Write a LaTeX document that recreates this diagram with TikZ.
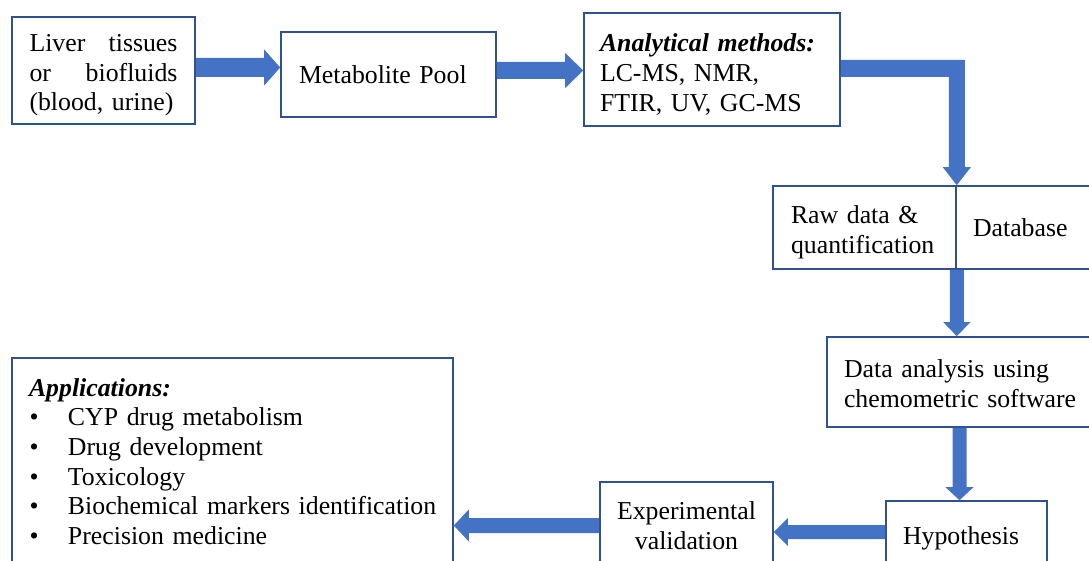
\documentclass[tikz,border=0pt]{standalone}
\usepackage{fontspec}
\setmainfont{Liberation Serif}
\usetikzlibrary{calc}
\definecolor{boxblue}{HTML}{2F528F}
\definecolor{arrowblue}{HTML}{4472C4}
\newcommand\arrR[5]{\fill[arrowblue] ($(#1)+(0,-#3)$) -- ($(#2)+(-#5,-#3)$) -- ($(#2)+(-#5,-#4)$) -- (#2) -- ($(#2)+(-#5,#4)$) -- ($(#2)+(-#5,#3)$) -- ($(#1)+(0,#3)$) -- cycle;}
\newcommand\arrL[5]{\fill[arrowblue] ($(#1)+(0,-#3)$) -- ($(#2)+(#5,-#3)$) -- ($(#2)+(#5,-#4)$) -- (#2) -- ($(#2)+(#5,#4)$) -- ($(#2)+(#5,#3)$) -- ($(#1)+(0,#3)$) -- cycle;}
\newcommand\arrD[5]{\fill[arrowblue] ($(#1)+(-#3,0)$) -- ($(#2)+(-#3,-#5)$) -- ($(#2)+(-#4,-#5)$) -- (#2) -- ($(#2)+(#4,-#5)$) -- ($(#2)+(#3,-#5)$) -- ($(#1)+(#3,0)$) -- cycle;}
\newcommand\appitem{\hspace*{0.5pt}\makebox[38.5pt][l]{\textbullet}}
\begin{document}
\begin{tikzpicture}[x=1pt, y=-1pt,
  box/.style={draw=boxblue, line width=1.6pt, inner sep=0pt, fill=white,
    font=\fontsize{25.8}{29.7}\selectfont}]
\useasboundingbox (0,0) rectangle (1089,561);
\clip (0,0) rectangle (1089,561);
% boxes
\node[box, minimum width=183pt, minimum height=107pt, text width=148pt, align=left] (liver) at (103.5,70.5)
  {\rule{0pt}{27pt}Liver\hfill tissues\\or\hfill biofluids\\(blood, urine)};
\node[box, minimum width=215pt, minimum height=85pt, text width=179pt, align=left] (metab) at (388.5,74.5)
  {Metabolite Pool};
\node[box, minimum width=256pt, minimum height=113pt, text width=224pt, align=left] (an) at (712,69.5)
  {\rule{0pt}{28pt}\textbf{\textit{Analytical methods:}}\\LC-MS, NMR,\\FTIR, UV, GC-MS};
\node[box, minimum width=183pt, minimum height=83pt, text width=147pt, align=left] (raw) at (864.5,227.5)
  {\rule{0pt}{27pt}Raw data \&\\\mbox{quantification}};
\node[box, minimum width=136pt, minimum height=83pt, text width=102pt, align=left] (db) at (1024,227.5)
  {Database};
\node[box, minimum width=265pt, minimum height=90pt, text width=231pt, align=left] (data) at (959.5,382)
  {\rule{0pt}{21pt}Data analysis using\\\mbox{chemometric software}};
\node[box, minimum width=161pt, minimum height=74pt, text width=127pt, align=left] (hyp) at (966.5,538)
  {Hypothesis};
\node[box, minimum width=173pt, minimum height=88pt, text width=139pt, align=center] (exp) at (686.5,526)
  {Experimental\\validation};
\node[box, minimum width=441pt, minimum height=207pt, text width=407pt, align=left] (app) at (232.5,461.5)
  {\textbf{\textit{Applications:}}\\\appitem CYP drug metabolism\\\appitem Drug development\\\appitem Toxicology\\\appitem\mbox{Biochemical markers identification}\\\appitem Precision medicine};
% helper coordinates for arrow axes
\coordinate (y1) at (0,67.5);
\coordinate (y2) at (0,70.5);
\coordinate (y3) at (0,68.5);
\coordinate (y6) at (0,532);
\coordinate (y7) at (0,525.5);
\coordinate (a1s) at (liver.east |- y1);
\coordinate (a1e) at (metab.west |- y1);
\coordinate (a2s) at (metab.east |- y2);
\coordinate (a2e) at (an.west |- y2);
\coordinate (a3s) at (an.east |- y3);
\coordinate (a3e) at (raw.north east);
\coordinate (a3c) at (a3e |- a3s);
\coordinate (a4s) at (raw.south east);
\coordinate (a4e) at (raw.south east |- data.north);
\coordinate (a5s) at (data.south);
\coordinate (a5e) at (data.south |- hyp.north);
\coordinate (a6s) at (hyp.west |- y6);
\coordinate (a6e) at (exp.east |- y6);
\coordinate (a7s) at (exp.west |- y7);
\coordinate (a7e) at (app.east |- y7);
% arrows
\arrR{a1s}{a1e}{9.5}{18}{16}
\arrR{a2s}{a2e}{8.5}{17.5}{18}
\fill[arrowblue] ($(a3s)+(0,-8.5)$) -- ($(a3c)+(8,-8.5)$) -- ($(a3e)+(8,-18)$) -- ($(a3e)+(14,-18)$) -- (a3e)
  -- ($(a3e)+(-14,-18)$) -- ($(a3e)+(-8,-18)$) -- ($(a3c)+(-8,8.5)$) -- ($(a3s)+(0,8.5)$) -- cycle;
\arrD{a4s}{a4e}{7}{13.5}{14}
\arrD{a5s}{a5e}{7}{14}{13}
\arrL{a6s}{a6e}{7}{14}{14}
\arrL{a7s}{a7e}{7.5}{16}{15}
\end{tikzpicture}
\end{document}
